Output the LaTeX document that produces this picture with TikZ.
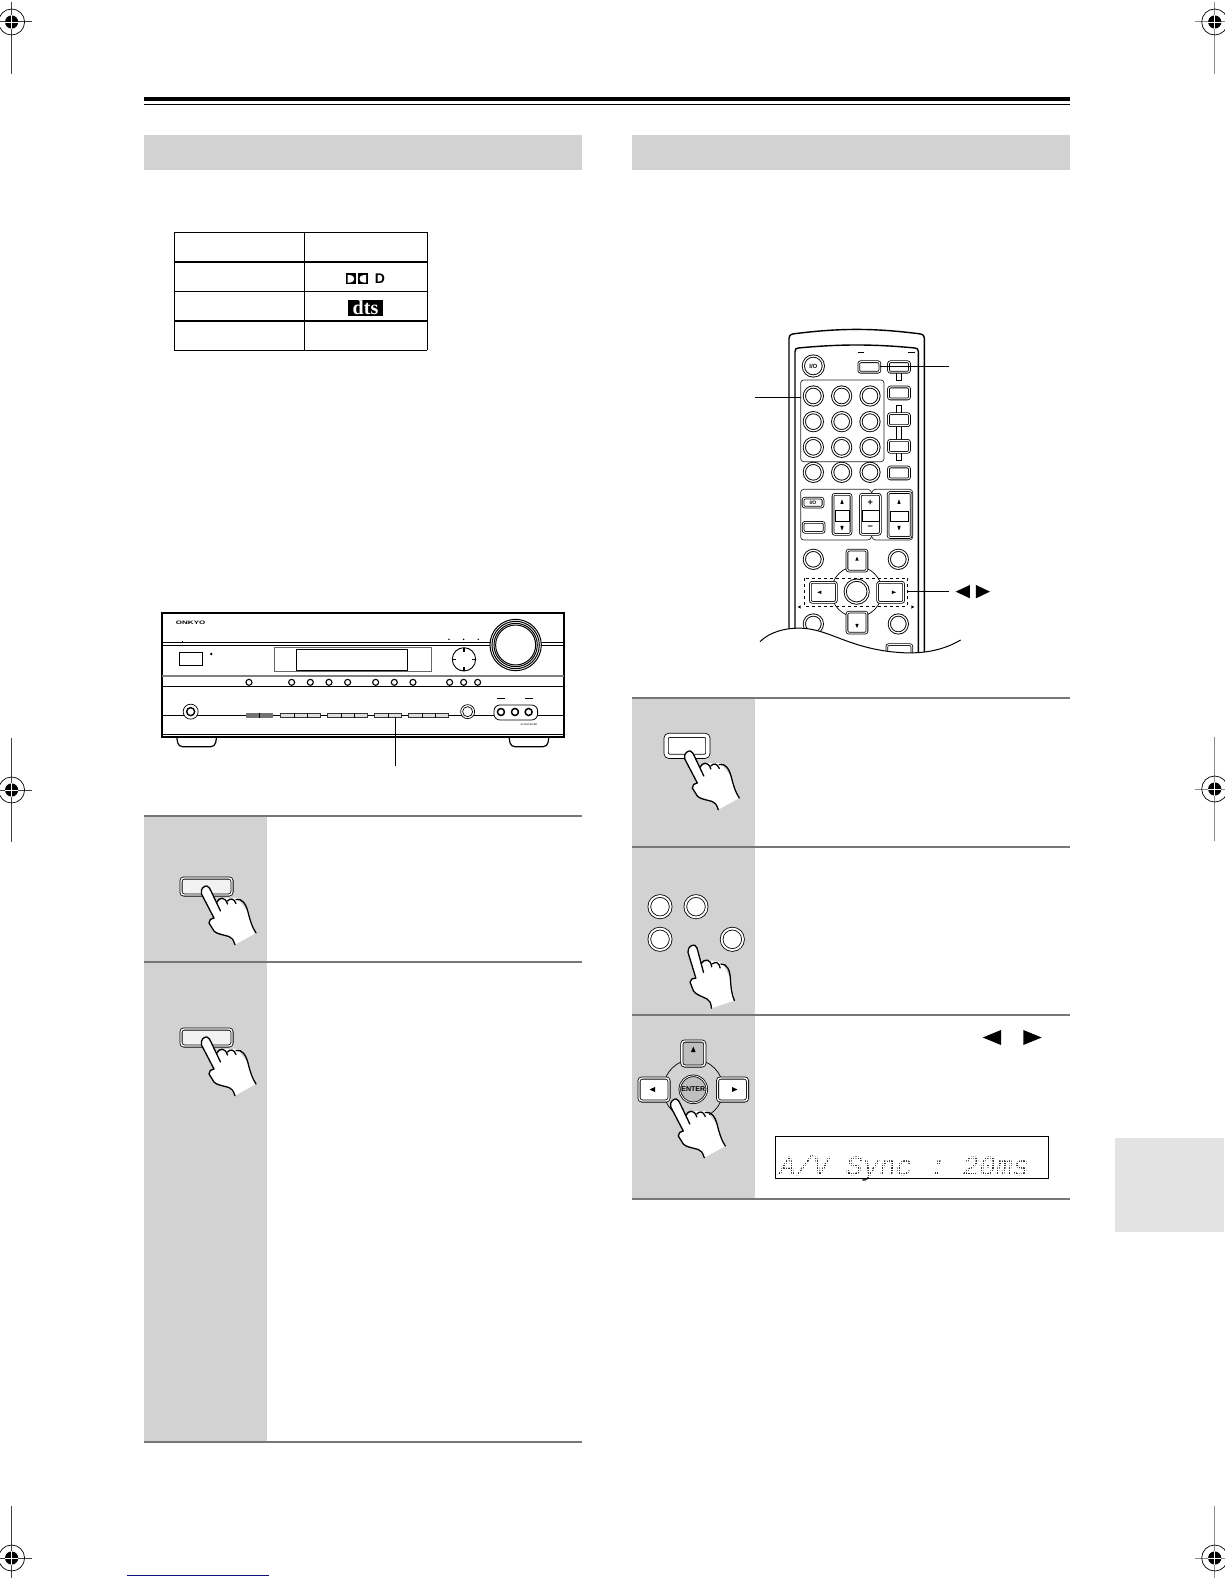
\documentclass[tikz,border=0pt]{standalone}
\usepackage{fontspec}
\setmainfont{Liberation Sans}
\setmonofont{Liberation Mono}
\newfontfamily\dtsfont{Liberation Serif}
\usetikzlibrary{positioning,calc}

\definecolor{panelgray}{HTML}{D2D2D2}
\definecolor{tabgray}{HTML}{E3E3E3}
\definecolor{rulegray}{HTML}{777777}
\definecolor{linkblue}{HTML}{10107A}

% Registration mark: x, y, length up, length down, colour of the lines
\newcommand{\regmark}[5]{
    \draw[#5, line width=1pt] (#1, #2-#3) -- (#1, #2+#4);
    \draw[#5, line width=1pt] (#1-20, #2) -- (#1+20, #2);
    \draw[black, line width=.7pt] (#1, #2) circle (13);
    \fill[black] (#1, #2) circle (6.6);
    \draw[white, line width=.9pt] (#1-6.6, #2) -- (#1+6.6, #2);
    \draw[white, line width=.9pt] (#1, #2-6.6) -- (#1, #2+6.6);
}

% Pressing hand: fingertip x, y, rotation
\newcommand{\handmark}[3]{
    \begin{scope}[shift={(#1, #2)}, rotate=#3]
        \fill[white] (51,46) -- (30,57.7) -- (24,49.5) -- (9,44) -- (4,35) -- (9,31) -- (-3.5,7)
            .. controls (-5,1) and (0,-1.5) .. (2,-1) -- (6,4) -- (12,15) -- (20,11) -- (32,11) -- (43,25) -- cycle;
        \draw[handline] (30,57.7) .. controls (28,52) and (27,51) .. (24,49.5)
            .. controls (15,47) and (12,47) .. (9,44) -- (4,36)
            .. controls (4,33) and (6,31) .. (9,31) -- (-3.5,7)
            .. controls (-5,1) and (0,-1.5) .. (2,-1)
            .. controls (4,-.5) and (5,2) .. (6,4) -- (15.5,24);
        \draw[handline] (11.5,15.5) .. controls (14,10) and (20,9) .. (22.5,17);
        \draw[handline] (22.5,14) .. controls (25,11) and (29,11) .. (31,16.5);
        \draw[handline] (31,12.5) .. controls (37,11) and (41,17) .. (43,25)
            .. controls (45,33) and (47,40) .. (51,46);
    \end{scope}
}

\begin{document}
\begin{tikzpicture}[
    x=1pt, y=-1pt,
    handline/.style={black, line width=1.3pt, line join=round, line cap=round},
    rulethin/.style={rulegray, line width=2pt},
    tableline/.style={black, line width=1pt},
    tablethick/.style={black, line width=2pt},
    rbtn/.style={circle, draw=black, fill=white, line width=.9pt, double=white, double distance=1.3pt, minimum size=18pt, inner sep=0pt},
    rkey/.style={rectangle, rounded corners=2pt, draw=black, fill=white, line width=.8pt, double=white, double distance=1pt, inner sep=0pt},
    panel/.style={rounded corners=3pt, draw=black!85, line width=.7pt},
    leader/.style={black, line width=1pt},
    smallbtn/.style={circle, draw=black, fill=white, line width=1.1pt, minimum size=6pt, inner sep=0pt},
    bigkey/.style={rectangle, rounded corners=3pt, draw=black, fill=white, line width=.8pt, double=white, double distance=1.4pt, inner sep=0pt},
    lowbtn/.style={rectangle, draw=black, fill=white, line width=.6pt, minimum height=4.5pt, inner sep=0pt}
]
\useasboundingbox (0,0) rectangle (1224,1584);
\fill[white] (0,0) rectangle (1224,1584);

% Top rule
\fill[black] (144,97) rectangle (1070,100.7);
\draw[black, line width=1pt] (144,105) -- (1070,105);

% Section headers
\fill[panelgray] (144,135) rectangle (582,170);
\fill[panelgray] (632,135) rectangle (1070,170);

% Side tab
\fill[tabgray] (1115,1138) rectangle (1224,1232);

% Table
\foreach \x in {174.3, 304.3, 427.3} {
    \draw[tableline] (\x,232.3) -- (\x,350.3);
}
\foreach \y in {232.3, 291.3, 350.3} {
    \draw[tableline] (174.3,\y) -- (427.3,\y);
}
\foreach \y in {261.7, 321} {
    \draw[tablethick] (174.3,\y) -- (427.3,\y);
}

% Table logos
\fill[black] (346,273.3) rectangle (356,284.3);
\fill[black] (357.7,273.3) rectangle (367.7,284.3);
\fill[white] (347.6,275) -- (350,275) .. controls (355.5,275) and (355.5,282.6) .. (350,282.6) -- (347.6,282.6) -- cycle;
\fill[white] (366.1,275) -- (363.7,275) .. controls (358.2,275) and (358.2,282.6) .. (363.7,282.6) -- (366.1,282.6) -- cycle;
\node[font=\bfseries\fontsize{14}{14}\selectfont, inner sep=0pt] (dolbyd) at (380,279) {D};
\node[fill=black, text=white, inner sep=0pt, minimum width=34.4pt, minimum height=15.7pt, font=\dtsfont\bfseries\fontsize{20}{20}\selectfont] (dtslogo) at (365.5,307.8) {dts};

% Receiver
\begin{scope}[shift={(150,600)}, x=.3333pt, y=-.3333pt]
    % Feet
    \draw[black, line width=1.2pt, rounded corners=4pt] (80,410) -- (85,440) -- (195,440) -- (200,410);
    \draw[black, line width=1.2pt, rounded corners=4pt] (1077,410) -- (1082,440) -- (1192,440) -- (1197,410);
    % Body
    \draw[black, fill=white, line width=1.8pt] (35,40) rectangle (1243,410);
    \draw[black, line width=.9pt] (35,128) -- (1243,128);
    \draw[black, line width=.5pt] (35,135) -- (1243,135);
    \fill[black!50] (35,224) rectangle (1243,231);
    \draw[black, line width=.8pt] (35,260) -- (1243,260);
    \draw[black, line width=.8pt] (35,347) -- (1243,347);
    \draw[black, line width=1.2pt] (35,403) -- (1243,403);
    \node[font=\bfseries\fontsize{5}{6}\selectfont, xscale=1.6, transform shape, inner sep=0pt] (brand) at (122,67) {ONKYO};
    % Volume knob
    \foreach \r in {77, 71, 65, 60} {
        \draw[black, fill=white, line width=1pt] (1097,135) circle (\r);
    }
    % Power switch and display
    \draw[black, line width=1.1pt, fill=white] (88,158) rectangle (157,197);
    \draw[black!60, line width=.7pt, fill=white] (372,143) rectangle (843,215);
    \draw[black, line width=1pt] (441,148) rectangle (773,212);
    \fill[black] (184,162) circle (4);
    \fill[black] (96,122) rectangle (99,126);
    % Cursor pad
    \draw[black, fill=white, line width=.9pt] (942,178) circle (35);
    \draw[black, line width=1.2pt] (942,143) -- (942,155) (942,201) -- (942,213) (907,178) -- (917,178) (967,178) -- (977,178);
    \foreach \x in {897, 941, 985} {
        \fill[black] (\x,118) circle (2.5);
    }
    % Round buttons in the middle row
    \foreach \x in {297, 425, 481, 537, 593, 677, 733, 789, 899, 941, 983} {
        \node[smallbtn] (rcv\x) at (\x,247) {};
    }
    % Lower row
    \node[circle, draw=black, fill=white, line width=.7pt, minimum size=15pt, inner sep=0pt] (phones) at (122,335) {};
    \node[circle, draw=black, line width=1.4pt, minimum size=8pt, inner sep=0pt] (phonesin) at (122,335) {};
    \fill[black!55] (288,340) rectangle (370,353);
    \draw[black, line width=.6pt] (329,340) -- (329,353);
    \foreach \a/\b in {392/512, 533/653, 673/755, 775/895} {
        \draw[black!80, fill=black!12, line width=.7pt] (\a,340) rectangle (\b,353);
    }
    \foreach \x in {432, 472, 573, 613, 714, 816, 856} {
        \draw[black, line width=.7pt] (\x,340) -- (\x,353);
    }
    \node[circle, draw=black, fill=white, line width=.7pt, minimum size=14pt, inner sep=0pt] (aux) at (953,335) {};
    \node[circle, draw=black, line width=.7pt, minimum size=10pt, inner sep=0pt] (auxin) at (953,335) {};
    \draw[black, fill=white, line width=.8pt, rounded corners=6pt] (1032,315) rectangle (1163,360);
    \foreach \x in {1053, 1095, 1136} {
        \node[circle, draw=black, fill=white, line width=1.5pt, minimum size=7pt, inner sep=0pt] (jack\x) at (\x,336) {};
    }
    \draw[black, line width=.9pt] (1040,295) -- (1065,295) (1125,295) -- (1150,295);
    \node[font=\fontsize{2.5}{3}\selectfont, inner sep=0pt] (model) at (1137,375) {AV RECEIVER};
    % Leader
    \coordinate (rcvkey) at (737,350);
    \coordinate (rcvend) at (737,497);
    \draw[leader, line width=1.2pt] (rcvkey) -- (rcvend);
\end{scope}

% Remote
\begin{scope}[shift={(740,320)}, x=.3333pt, y=-.3333pt]
    \draw[black, fill=white, line width=1.4pt] (147,1000) -- (147,55) .. controls (149,43) and (155,42) .. (165,41)
        .. controls (300,24) and (400,24) .. (535,41) .. controls (547,42) and (552,45) .. (553,55) -- (553,1000);
    \draw[black, line width=1.4pt] (165,1000) -- (165,95) .. controls (165,87) and (168,85) .. (175,84)
        .. controls (300,72) and (400,72) .. (525,84) .. controls (532,85) and (535,87) .. (535,95) -- (535,1000);
    \draw[black, line width=.7pt] (353,97) -- (372,97) (505,97) -- (525,97);
    % Top buttons
    \node[rbtn, minimum size=20pt, font=\bfseries\fontsize{6}{6}\selectfont] (power) at (220,138) {I/O};
    \draw[black, fill=white, line width=.8pt] (470,150) rectangle (484,182);
    \draw[black, fill=white, line width=.8pt] (470,255) rectangle (484,422);
    \node[rkey, minimum width=21pt, minimum height=10.5pt] (tv) at (388,141) {};
    \node[rkey, minimum width=21pt, minimum height=10.5pt] (rcv) at (477,141) {};
    % Number pad
    \draw[panel] (182,180) rectangle (432,425);
    \foreach \y in {228, 305, 382, 457} {
        \foreach \x in {220, 305, 390} {
            \node[rbtn] (num\x\y) at (\x,\y) {};
        }
    }
    \foreach \y in {219, 299, 379, 459} {
        \node[rkey, minimum width=21pt, minimum height=12pt] (side\y) at (477,\y) {};
    }
    % Rocker panel
    \draw[panel] (395,520) -- (392,508) -- (182,508) -- (182,660) -- (392,660) -- (395,648);
    \draw[panel] (395,520) -- (398,508) -- (518,508) -- (518,660) -- (398,660) -- (395,648);
    \node[rkey, minimum width=20pt, minimum height=9pt, font=\bfseries\fontsize{5}{5}\selectfont] (tvpower) at (219,548) {I/O};
    \node[rkey, minimum width=21pt, minimum height=10pt] (tvmode) at (221,622) {};
    \node[rkey, minimum width=18pt, minimum height=40pt] (rockch) at (306,583) {};
    \node[rkey, minimum width=20pt, minimum height=40pt] (rockvol) at (391,583) {};
    \node[rkey, minimum width=23pt, minimum height=45pt] (rockmain) at (479,585) {};
    \draw[black, line width=.8pt] (285,570) rectangle (329,603);
    \draw[black, line width=.8pt] (368,570) rectangle (418,603);
    \draw[black, line width=.8pt] (450,575) rectangle (505,603);
    \foreach \x in {306, 477} {
        \fill[black] (\x-5,552) -- (\x+5,552) -- (\x,538) -- cycle;
        \fill[black] (\x-5,618) -- (\x+5,618) -- (\x,632) -- cycle;
    }
    \node[font=\bfseries\fontsize{9}{9}\selectfont, inner sep=0pt] (volplus) at (391,548) {+};
    \node[font=\bfseries\fontsize{9}{9}\selectfont, inner sep=0pt] (volminus) at (391,622) {−};
    % Cursor pad
    \draw[black, line width=.7pt] (350,815) circle (76);
    \draw[black, line width=.8pt, dashed] (192,775) rectangle (503,858);
    \node[rbtn] (menu) at (220,718) {};
    \node[rbtn] (setup) at (475,718) {};
    \node[rbtn] (back) at (220,912) {};
    \node[rbtn] (disp) at (475,912) {};
    \node[rkey, minimum width=20pt, minimum height=21pt] (navup) at (351,722) {};
    \node[rkey, minimum width=20pt, minimum height=21pt] (navdown) at (351,908) {};
    \node[rkey, minimum width=26pt, minimum height=20pt] (navleft) at (250,817) {};
    \node[rkey, minimum width=26pt, minimum height=20pt] (navright) at (452,817) {};
    \node[rbtn, minimum size=23pt] (navok) at (350,815) {};
    \fill[black] (346,722) -- (356,722) -- (351,710) -- cycle;
    \fill[black] (346,912) -- (356,912) -- (351,924) -- cycle;
    \fill[black] (244,812) -- (244,822) -- (232,817) -- cycle;
    \fill[black] (456,812) -- (456,822) -- (468,817) -- cycle;
    \fill[black] (182,856) -- (182,866) -- (173,861) -- cycle;
    \fill[black] (514,856) -- (514,866) -- (523,861) -- cycle;
    \node[rkey, minimum width=25pt, minimum height=12pt] (lastkey) at (478,992) {};
    % Cut-off edge
    \fill[white] (60,965) .. controls (90,935) and (140,922) .. (190,925) .. controls (270,930) and (330,985) .. (470,997)
        .. controls (560,1005) and (620,985) .. (662,960) -- (662,1040) -- (60,1040) -- cycle;
    \draw[black, line width=1pt] (60,965) .. controls (90,935) and (140,922) .. (190,925) .. controls (270,930) and (330,985) .. (470,997)
        .. controls (560,1005) and (620,985) .. (662,960);
    % Leaders
    \coordinate (rcvtip) at (420,140);
    \coordinate (rcvlab) at (627,140);
    \coordinate (padtip) at (182,233);
    \coordinate (padlab) at (46,233);
    \coordinate (navtip) at (503,815);
    \coordinate (navlab) at (627,815);
    \draw[leader] (rcvtip) -- (rcvlab);
    \draw[leader] (padtip) -- (padlab);
    \draw[leader, line width=1.4pt] (navtip) -- (navlab);
    \fill[black] (690,795) -- (690,835) -- (647,815) -- cycle;
    \fill[black] (708,795) -- (708,835) -- (750,815) -- cycle;
\end{scope}

% Left steps
\fill[panelgray] (144,816) rectangle (267,1442);
\draw[rulegray, line width=2.7pt] (144,816) -- (582,816);
\draw[rulethin] (144,962) -- (582,962);
\draw[rulethin] (144,1442) -- (582,1442);
\node[bigkey, fill=black!5, minimum width=51pt, minimum height=17pt] (setkeya) at (206.5,886.5) {};
\handmark{205}{887}{0}
\node[bigkey, fill=black!5, minimum width=51pt, minimum height=17pt] (setkeyb) at (206.5,1037.5) {};
\handmark{205}{1038}{0}

% Right steps
\fill[panelgray] (632,698) rectangle (755,1199);
\draw[rulethin] (632,698) -- (1070,698);
\draw[rulethin] (632,847) -- (1070,847);
\draw[rulethin] (632,1015) -- (1070,1015);
\draw[rulethin] (632,1199) -- (1070,1199);

% Step 1
\node[bigkey, double distance=3.4pt, minimum width=41.7pt, minimum height=20.9pt] (stepkey) at (687,745.8) {};
\handmark{688.3}{752}{0}

% Step 2
\foreach \x/\y/\n in {660/906.7/a, 696/906.7/b, 660/939.3/c, 732.3/939.3/d} {
    \node[circle, draw=black, fill=white, line width=.8pt, double=white, double distance=1.9pt, minimum size=21.4pt, inner sep=0pt] (round\n) at (\x,\y) {};
}
\handmark{692.7}{946}{-10.6}

% Step 3
\draw[black, fill=panelgray, line width=.7pt] (693.3,1089.3) circle (30);
\node[bigkey, fill=black!25, minimum width=23pt, minimum height=25pt] (padup) at (693.3,1053.5) {};
\node[bigkey, minimum width=30pt, minimum height=23pt] (padleft) at (654,1089.5) {};
\node[bigkey, minimum width=30pt, minimum height=23pt] (padright) at (732.5,1089.5) {};
\node[circle, draw=black, fill=black!25, line width=.8pt, double=white, double distance=.8pt, minimum size=27pt, inner sep=0pt, font=\bfseries\fontsize{7}{7}\selectfont] (enter) at (693.3,1089.3) {ENTER};
\fill[black] (691,1052) -- (695.6,1052) -- (693.3,1046.5) -- cycle;
\fill[black] (655,1087) -- (655,1092) -- (649.5,1089.5) -- cycle;
\fill[black] (732,1087) -- (732,1092) -- (737.5,1089.5) -- cycle;
\handmark{674.3}{1100}{0}

% Arrows of step 3
\fill[black] (1001,1030) -- (1001,1045) -- (982.7,1037.5) -- cycle;
\fill[black] (1023.3,1030) -- (1023.3,1045) -- (1041.7,1037.5) -- cycle;

% Display
\node[anchor=base west, inner sep=0pt, text=black!80, font=\ttfamily\itshape\fontsize{27.8}{28}\selectfont] (lcd) at (779,1175) {A/V Sync : 20ms};
\foreach \y in {1150, 1152.4, ..., 1178} {
    \draw[white, line width=.8pt] (778,\y) -- (1046,\y);
}
\foreach \x in {778, 780.4, ..., 1046} {
    \draw[white, line width=.8pt] (\x,1150) -- (\x,1178);
}
\draw[black, line width=.8pt] (775.7,1136.5) rectangle (1048.3,1178.3);
\draw[black, line width=1.6pt] (775.7,1136.5) -- (1048.3,1136.5);

% Registration marks
\regmark{11.6}{22}{20}{52}{black!75}
\regmark{1214.7}{22}{20}{52}{black!45}
\regmark{11.6}{790}{52}{52}{black!75}
\regmark{1214.7}{789}{52}{52}{black!45}
\regmark{11.6}{1558}{52}{20}{black!75}
\regmark{1214.7}{1558}{52}{20}{black!45}

% Bottom line
\draw[linkblue, line width=1pt] (127,1575.3) -- (269,1575.3);

\end{tikzpicture}
\end{document}
